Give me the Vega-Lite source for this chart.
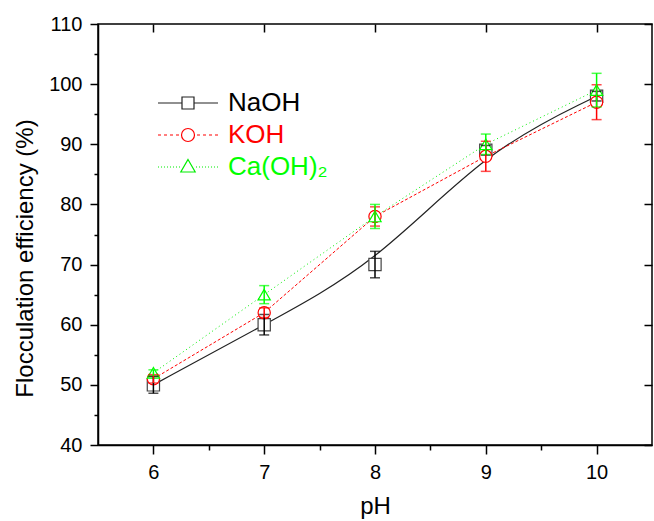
{
  "$schema": "https://vega.github.io/schema/vega-lite/v6.json",
  "width": 554,
  "height": 421,
  "autosize": {"type": "none"},
  "padding": {"left": 98, "top": 24, "right": 2, "bottom": 76},
  "background": "white",
  "config": {
    "view": {"stroke": "black", "strokeWidth": 1.5},
    "font": "Liberation Sans",
    "axis": {
      "labelFont": "Liberation Sans",
      "titleFont": "Liberation Sans",
      "labelColor": "black",
      "titleColor": "black",
      "domainColor": "black",
      "tickColor": "black",
      "grid": false,
      "labelFontSize": 20,
      "titleFontSize": 24,
      "titleFontWeight": "normal",
      "domainWidth": 1.5,
      "tickWidth": 1.5
    }
  },
  "data": {
    "values": [
      {"ph": 6, "series": "NaOH", "v": 50, "err": 1.4},
      {"ph": 7, "series": "NaOH", "v": 60, "err": 1.7},
      {"ph": 8, "series": "NaOH", "v": 70, "err": 2.2},
      {"ph": 9, "series": "NaOH", "v": 89, "err": 0.8},
      {"ph": 10, "series": "NaOH", "v": 98, "err": 0.8},
      {"ph": 6, "series": "KOH", "v": 51, "err": 0.7},
      {"ph": 7, "series": "KOH", "v": 62, "err": 0.8},
      {"ph": 8, "series": "KOH", "v": 78, "err": 1.6},
      {"ph": 9, "series": "KOH", "v": 88, "err": 2.5},
      {"ph": 10, "series": "KOH", "v": 97, "err": 2.9},
      {"ph": 6, "series": "Ca(OH)₂", "v": 52, "err": 0.5},
      {"ph": 7, "series": "Ca(OH)₂", "v": 65, "err": 1.5},
      {"ph": 8, "series": "Ca(OH)₂", "v": 78, "err": 2.0},
      {"ph": 9, "series": "Ca(OH)₂", "v": 90, "err": 1.7},
      {"ph": 10, "series": "Ca(OH)₂", "v": 99, "err": 2.8}
    ]
  },
  "layer": [
    {
      "transform": [{"filter": "datum.series === 'NaOH'"}],
      "mark": {"type": "line", "interpolate": "basis", "color": "#222222", "strokeWidth": 1.2},
      "encoding": {
        "x": {
          "field": "ph", "type": "quantitative",
          "scale": {"domain": [5.5, 10.5], "nice": false, "zero": false},
          "axis": {
            "orient": "bottom",
            "values": [6, 6.5, 7, 7.5, 8, 8.5, 9, 9.5, 10],
            "labelExpr": "datum.value % 1 === 0 ? format(datum.value, 'd') : ''",
            "tickSize": {"condition": {"test": "datum.value % 1 === 0", "value": 9}, "value": 5},
            "title": "pH",
            "labelPadding": 8,
            "titlePadding": 12
          }
        },
        "y": {
          "field": "v", "type": "quantitative",
          "scale": {"domain": [40, 110], "nice": false, "zero": false},
          "axis": {
            "orient": "left",
            "values": [40, 45, 50, 55, 60, 65, 70, 75, 80, 85, 90, 95, 100, 105, 110],
            "labelExpr": "datum.value % 10 === 0 ? format(datum.value, 'd') : ''",
            "tickSize": {"condition": {"test": "datum.value % 10 === 0", "value": 8}, "value": 4},
            "title": "Flocculation efficiency (%)",
            "titleY": 234,
            "labelPadding": 8,
            "titlePadding": 11
          }
        }
      }
    },
    {
      "transform": [{"filter": "datum.series === 'KOH'"}],
      "mark": {"type": "line", "color": "#ff0000", "strokeWidth": 1, "strokeDash": [3, 2]},
      "encoding": {
        "x": {"field": "ph", "type": "quantitative", "axis": null},
        "y": {"field": "v", "type": "quantitative", "axis": null}
      }
    },
    {
      "transform": [{"filter": "datum.series === 'Ca(OH)₂'"}],
      "mark": {"type": "line", "color": "#00ee00", "strokeWidth": 1, "strokeDash": [1, 3]},
      "encoding": {
        "x": {"field": "ph", "type": "quantitative", "axis": null},
        "y": {"field": "v", "type": "quantitative", "axis": null}
      }
    },
    {
      "mark": {"type": "point", "filled": false, "fill": "white", "size": 150, "strokeWidth": 1.2, "opacity": 1},
      "encoding": {
        "x": {"field": "ph", "type": "quantitative", "axis": null},
        "y": {"field": "v", "type": "quantitative", "axis": null},
        "color": {
          "field": "series", "type": "nominal", "legend": null,
          "scale": {"domain": ["NaOH", "KOH", "Ca(OH)₂"], "range": ["#444444", "#ff0000", "#00ff00"]}
        },
        "shape": {
          "field": "series", "type": "nominal", "legend": null,
          "scale": {"domain": ["NaOH", "KOH", "Ca(OH)₂"], "range": ["square", "circle", "triangle-up"]}
        }
      }
    },
    {
      "mark": {"type": "errorbar", "ticks": {"size": 10, "thickness": 1.5}, "thickness": 1.5},
      "encoding": {
        "x": {"field": "ph", "type": "quantitative", "axis": null},
        "y": {"field": "v", "type": "quantitative", "axis": null},
        "yError": {"field": "err"},
        "color": {
          "field": "series", "type": "nominal", "legend": null,
          "scale": {"domain": ["NaOH", "KOH", "Ca(OH)₂"], "range": ["#000000", "#ff0000", "#00ff00"]}
        }
      }
    },
    {
      "transform": [{"filter": "datum.v > 1000"}],
      "mark": {"type": "point", "filled": false, "opacity": 1, "strokeWidth": 1.2},
      "encoding": {
        "x": {
          "field": "ph", "type": "quantitative",
          "axis": {"orient": "top", "values": [6, 7, 8, 9, 10], "labels": false, "title": null, "tickSize": -8, "domain": false}
        },
        "y": {
          "field": "v", "type": "quantitative",
          "axis": {"orient": "right", "values": [40, 50, 60, 70, 80, 90, 100, 110], "labels": false, "title": null, "tickSize": -8, "domain": false}
        },
        "color": {
          "field": "series", "type": "nominal",
          "scale": {"domain": ["NaOH", "KOH", "Ca(OH)₂"], "range": ["#222222", "#ff0000", "#00ee00"]},
          "legend": {
            "orient": "none", "legendX": 77, "legendY": 66, "title": null, "padding": 0,
            "labelFont": "Liberation Sans", "labelFontSize": 26, "labelOffset": 27, "rowPadding": 6,
            "symbolSize": 400, "symbolStrokeWidth": 1.2,
            "labelColor": {"expr": "datum.label === 'NaOH' ? '#000000' : datum.label === 'KOH' ? '#ff0000' : '#00ff00'"}
          }
        },
        "shape": {
          "field": "series", "type": "nominal",
          "scale": {
            "domain": ["NaOH", "KOH", "Ca(OH)₂"],
            "range": [
              "M-3,0H-0.6M0.6,0H3M-0.6,-0.6H0.6V0.6H-0.6Z",
              "M-3,0H-2.7M-2.4,0H-2.1M-1.8,0H-1.5M-1.2,0H-0.9M0.9,0H1.2M1.5,0H1.8M2.1,0H2.4M2.7,0H3M0.65,0A0.65,0.65 0 1,1 -0.65,0A0.65,0.65 0 1,1 0.65,0Z",
              "M-3,0H-2.9M-2.7,0H-2.6M-2.4,0H-2.3M-2.1,0H-2M-1.8,0H-1.7M-1.5,0H-1.4M-1.2,0H-1.1M-0.9,0H-0.8M0.8,0H0.9M1.1,0H1.2M1.4,0H1.5M1.7,0H1.8M2,0H2.1M2.3,0H2.4M2.6,0H2.7M2.9,0H3M0,-0.75L0.72,0.5L-0.72,0.5Z"
            ]
          },
          "legend": {
            "orient": "none", "legendX": 77, "legendY": 66, "title": null, "padding": 0,
            "labelFont": "Liberation Sans", "labelFontSize": 26, "labelOffset": 27, "rowPadding": 6,
            "symbolSize": 400, "symbolStrokeWidth": 1.2,
            "labelColor": {"expr": "datum.label === 'NaOH' ? '#000000' : datum.label === 'KOH' ? '#ff0000' : '#00ff00'"}
          }
        }
      }
    }
  ],
  "resolve": {
    "scale": {"color": "independent", "shape": "independent"},
    "axis": {"x": "independent", "y": "independent"}
  }
}
